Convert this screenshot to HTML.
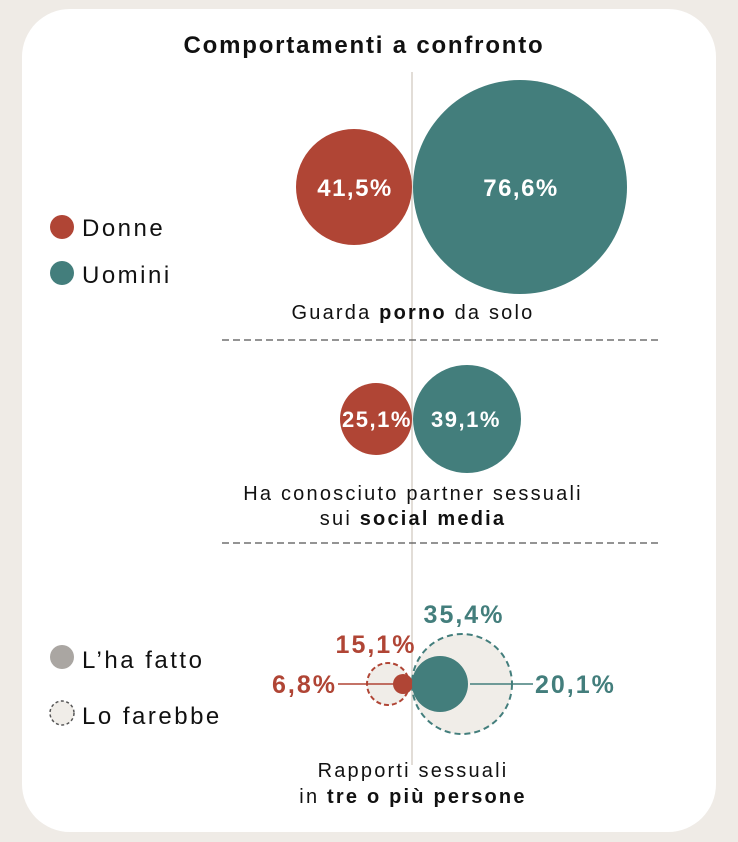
<!DOCTYPE html>
<html><head><meta charset="utf-8"><style>
html,body{margin:0;padding:0;background:#efebe6;}
body{width:738px;height:842px;position:relative;overflow:hidden;font-family:"Liberation Sans",sans-serif;}
.card{position:absolute;left:22px;top:9px;width:694px;height:823px;background:#fff;border-radius:48px;}
svg{position:absolute;left:0;top:0;}
.b{letter-spacing:2.2px;}
.l{letter-spacing:2.5px;}
.p{letter-spacing:2px;}
.c{letter-spacing:1.5px;}
</style></head><body>
<div class="card"></div>
<svg width="738" height="842" viewBox="0 0 738 842" font-family="Liberation Sans, sans-serif">
<text x="364" y="53" text-anchor="middle" font-size="24" font-weight="bold" fill="#111" style="letter-spacing:1.8px">Comportamenti a confronto</text>
<line x1="412" y1="72" x2="412" y2="765" stroke="#d8d2ca" stroke-width="1.5"/>
<circle cx="62" cy="227" r="12" fill="#b04535"/>
<text class="l" x="82" y="236" font-size="24" fill="#111">Donne</text>
<circle cx="62" cy="273" r="12" fill="#437e7c"/>
<text class="l" x="82" y="283" font-size="24" fill="#111">Uomini</text>
<circle cx="62" cy="657" r="12" fill="#aaa6a2"/>
<text class="l" x="82" y="668" font-size="24" fill="#111">L’ha fatto</text>
<circle cx="62" cy="713" r="12" fill="#f0ede8" stroke="#555" stroke-width="1.5" stroke-dasharray="3,2.5"/>
<text class="l" x="82" y="724" font-size="24" fill="#111">Lo farebbe</text>
<circle cx="354" cy="187" r="58" fill="#b04535"/>
<circle cx="520" cy="187" r="107" fill="#437e7c"/>
<text class="c" x="355" y="196" text-anchor="middle" font-size="24" font-weight="bold" fill="#fff">41,5%</text>
<text class="c" x="521" y="196" text-anchor="middle" font-size="24" font-weight="bold" fill="#fff">76,6%</text>
<text class="b" x="413" y="319" text-anchor="middle" font-size="20" fill="#111">Guarda <tspan font-weight="bold">porno</tspan> da solo</text>
<line x1="222" y1="340" x2="662" y2="340" stroke="#555" stroke-width="1.2" stroke-dasharray="7,4"/>
<circle cx="376" cy="419" r="36" fill="#b04535"/>
<circle cx="467" cy="419" r="54" fill="#437e7c"/>
<text class="c" x="377" y="427" text-anchor="middle" font-size="22" font-weight="bold" fill="#fff">25,1%</text>
<text class="c" x="466" y="427" text-anchor="middle" font-size="22" font-weight="bold" fill="#fff">39,1%</text>
<text class="b" x="413" y="500" text-anchor="middle" font-size="20" fill="#111">Ha conosciuto partner sessuali</text>
<text class="b" x="413" y="525" text-anchor="middle" font-size="20" fill="#111">sui <tspan font-weight="bold">social media</tspan></text>
<line x1="222" y1="543" x2="662" y2="543" stroke="#555" stroke-width="1.2" stroke-dasharray="7,4"/>
<circle cx="462" cy="684" r="50" fill="#f0ede8" stroke="#437e7c" stroke-width="2" stroke-dasharray="6,4"/>
<circle cx="388" cy="684" r="21" fill="#f0ede8" stroke="#b04535" stroke-width="2" stroke-dasharray="5,3"/>
<line x1="338" y1="684" x2="395" y2="684" stroke="#b04535" stroke-width="1.5"/>
<circle cx="403" cy="684" r="10" fill="#b04535"/>
<circle cx="440" cy="684" r="28" fill="#437e7c"/>
<line x1="470" y1="684" x2="533" y2="684" stroke="#437e7c" stroke-width="1.5"/>
<text class="p" x="337" y="693" text-anchor="end" font-size="25" font-weight="bold" fill="#b04535">6,8%</text>
<text class="p" x="535" y="693" font-size="25" font-weight="bold" fill="#437e7c">20,1%</text>
<text class="p" x="376" y="653" text-anchor="middle" font-size="25" font-weight="bold" fill="#b04535">15,1%</text>
<text class="p" x="464" y="623" text-anchor="middle" font-size="25" font-weight="bold" fill="#437e7c">35,4%</text>
<text class="b" x="413" y="777" text-anchor="middle" font-size="20" fill="#111">Rapporti sessuali</text>
<text class="b" x="413" y="803" text-anchor="middle" font-size="20" fill="#111">in <tspan font-weight="bold">tre o più persone</tspan></text>
</svg>
</body></html>
